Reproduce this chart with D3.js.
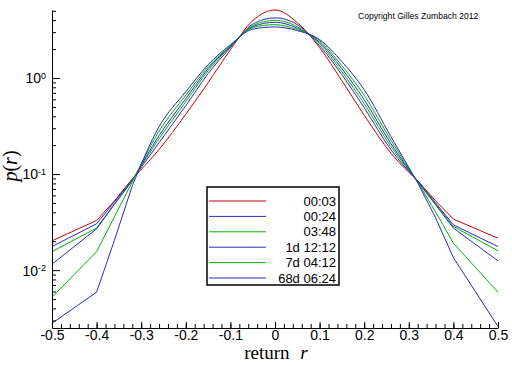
<!DOCTYPE html>
<html>
<head>
<meta charset="utf-8">
<script src="https://cdn.jsdelivr.net/npm/d3@7"></script>
<style>
  body { margin: 0; background: #fff; }
  svg { display: block; }
  .axis path, .axis line { stroke: #000; }
  .axis text { font-family: Arial, "Liberation Sans", sans-serif; fill: #000; }
</style>
</head>
<body>
<svg id="chart" width="512" height="366"></svg>
<script>
  const returns = [-0.5, -0.4, -0.36, -0.32, -0.26, -0.2, -0.15, -0.1, -0.05, 0,
    0.05, 0.1, 0.15, 0.2, 0.26, 0.32, 0.36, 0.4, 0.5];

  const labels = ["00:03", "00:24", "03:48", "1d 12:12", "7d 04:12", "68d 06:24"];
  const colors = ["#cc0000", "#2a2ac0", "#00b000", "#2a2ac0", "#00b000", "#2a2ac0"];

  const p0003 = [0.0202, 0.0329, 0.0527, 0.0893, 0.18, 0.42, 0.894, 1.97, 3.95, 5.1,
    3.77, 2.07, 0.937, 0.41, 0.165, 0.0852, 0.0527, 0.034, 0.0215];
  const p0024 = [0.0176, 0.0304, 0.0515, 0.0872, 0.212, 0.515, 1.11, 2.07, 3.63, 4.22,
    3.59, 2.17, 1.08, 0.49, 0.179, 0.0852, 0.0502, 0.0296, 0.0176];
  const p0348 = [0.0156, 0.0274, 0.0491, 0.0862, 0.233, 0.566, 1.19, 2.12, 3.51, 3.98,
    3.42, 2.28, 1.16, 0.54, 0.193, 0.0841, 0.0491, 0.0285, 0.0159];
  const p1d = [0.01155, 0.0269, 0.0485, 0.0852, 0.251, 0.609, 1.25, 2.14, 3.42, 3.8,
    3.3, 2.36, 1.25, 0.594, 0.207, 0.0831, 0.0479, 0.0274, 0.0125];
  const p7d = [0.00523, 0.0156, 0.0359, 0.0831, 0.279, 0.662, 1.31, 2.17, 3.34, 3.59,
    3.19, 2.45, 1.34, 0.662, 0.225, 0.0821, 0.0405, 0.0191, 0.0059];
  const p68d = [0.0028, 0.0059, 0.0205, 0.0755, 0.311, 0.72, 1.375, 2.22, 3.22, 3.4,
    3.11, 2.51, 1.48, 0.755, 0.245, 0.0812, 0.0351, 0.0135, 0.00259];

  const series = [p0003, p0024, p0348, p1d, p7d, p68d].map((vals, i) => ({
    label: labels[i],
    color: colors[i],
    points: returns.map((r, j) => ({ r, p: vals[j] }))
  }));

  const svg = d3.select("#chart");
  const margin = { top: 10, right: 14, bottom: 38, left: 52 };
  const width = 512 - margin.left - margin.right;
  const height = 366 - margin.top - margin.bottom;

  const g = svg.append("g").attr("transform", `translate(${margin.left},${margin.top})`);

  const x = d3.scaleLinear().domain([-0.5, 0.5]).range([0, width]);
  const y = d3.scaleLog().domain([0.0025, 5.1]).range([height, 0]);

  // tails are straight segments, the body is smooth
  const tailLine = d3.line().x(d => x(d.r)).y(d => y(d.p));
  const bodyLine = d3.line().x(d => x(d.r)).y(d => y(d.p)).curve(d3.curveMonotoneX);

  const lines = g.selectAll(".series")
    .data(series)
    .join("g")
    .attr("class", "series")
    .attr("fill", "none")
    .attr("stroke", d => d.color)
    .attr("stroke-width", 1);

  lines.append("path").attr("d", d => tailLine(d.points.filter(p => p.r <= -0.32)));
  lines.append("path").attr("d", d => bodyLine(d.points.filter(p => p.r >= -0.32 && p.r <= 0.32)));
  lines.append("path").attr("d", d => tailLine(d.points.filter(p => p.r >= 0.32)));

  // x axis: minor ticks every 0.02, labelled majors every 0.1
  const xMinor = d3.range(-50, 51, 2).map(v => v / 100);
  g.append("g")
    .attr("class", "axis")
    .attr("transform", `translate(0,${height})`)
    .call(d3.axisBottom(x).tickValues(xMinor).tickSize(-4).tickFormat(""))
    .call(a => a.select(".domain").remove());

  g.append("g")
    .attr("class", "axis")
    .attr("transform", `translate(0,${height})`)
    .call(d3.axisBottom(x).ticks(10).tickSize(-6).tickSizeOuter(0).tickPadding(2)
      .tickFormat(d => d === 0 ? "0" : d3.format(".1f")(d).replace("−", "-")))
    .call(a => a.selectAll("text").attr("font-size", 14).attr("dy", "0.71em"));

  // y axis: decades labelled as powers of ten, minor 2..9
  const yMinor = [];
  [0.001, 0.01, 0.1, 1].forEach(dec => {
    for (let k = 2; k <= 9; k++) {
      const v = dec * k;
      if (v >= 0.0025 && v <= 5.1) yMinor.push(v);
    }
  });
  g.append("g")
    .attr("class", "axis")
    .call(d3.axisLeft(y).tickValues(yMinor).tickSize(-4).tickFormat(""))
    .call(a => a.select(".domain").remove());

  const yAxis = g.append("g")
    .attr("class", "axis")
    .call(d3.axisLeft(y).tickValues([0.01, 0.1, 1]).tickSize(-8).tickSizeOuter(0)
      .tickFormat(""));

  yAxis.selectAll(".tick").each(function (d) {
    const t = d3.select(this).append("text")
      .attr("x", -6)
      .attr("dy", "0.35em")
      .attr("text-anchor", "end")
      .attr("font-size", 14);
    t.append("tspan").text("10");
    t.append("tspan")
      .attr("font-size", 9)
      .attr("dy", "-0.5em")
      .text(d === 1 ? "0" : "-" + Math.round(-Math.log10(d)));
  });

  // axis titles
  const title = svg.append("text")
    .attr("x", 276)
    .attr("y", 359)
    .attr("font-family", "'Liberation Serif', 'DejaVu Serif', serif")
    .attr("font-size", 19)
    .attr("text-anchor", "middle");
  title.append("tspan").text("return ");
  title.append("tspan").attr("dx", 6).attr("font-style", "italic").text("r");

  const ylab = svg.append("text")
    .attr("transform", "translate(17,166) rotate(-90)")
    .attr("font-family", "'Liberation Serif', 'DejaVu Serif', serif")
    .attr("font-size", 20)
    .attr("text-anchor", "middle");
  ylab.append("tspan").attr("font-style", "italic").text("p");
  ylab.append("tspan").text("(");
  ylab.append("tspan").attr("font-style", "italic").text("r");
  ylab.append("tspan").text(")");

  svg.append("text")
    .attr("x", 358)
    .attr("y", 19)
    .attr("font-family", "Arial, 'Liberation Sans', sans-serif")
    .attr("font-size", 8.6)
    .text("Copyright Gilles Zumbach 2012");

  // legend
  const legend = svg.append("g").attr("transform", "translate(207,187)");
  legend.append("rect")
    .attr("width", 132)
    .attr("height", 98)
    .attr("fill", "#fff")
    .attr("stroke", "#000")
    .attr("stroke-width", 1.5);

  const rows = legend.selectAll(".row")
    .data(series)
    .join("g")
    .attr("class", "row")
    .attr("transform", (d, i) => `translate(0,${14 + i * 15.4})`);

  rows.append("line")
    .attr("x1", 2)
    .attr("x2", 59)
    .attr("stroke", d => d.color)
    .attr("stroke-width", 1);

  rows.append("text")
    .attr("x", 129)
    .attr("dy", "0.36em")
    .attr("text-anchor", "end")
    .attr("font-family", "Arial, 'Liberation Sans', sans-serif")
    .attr("font-size", 13)
    .text(d => d.label);
</script>
</body>
</html>
